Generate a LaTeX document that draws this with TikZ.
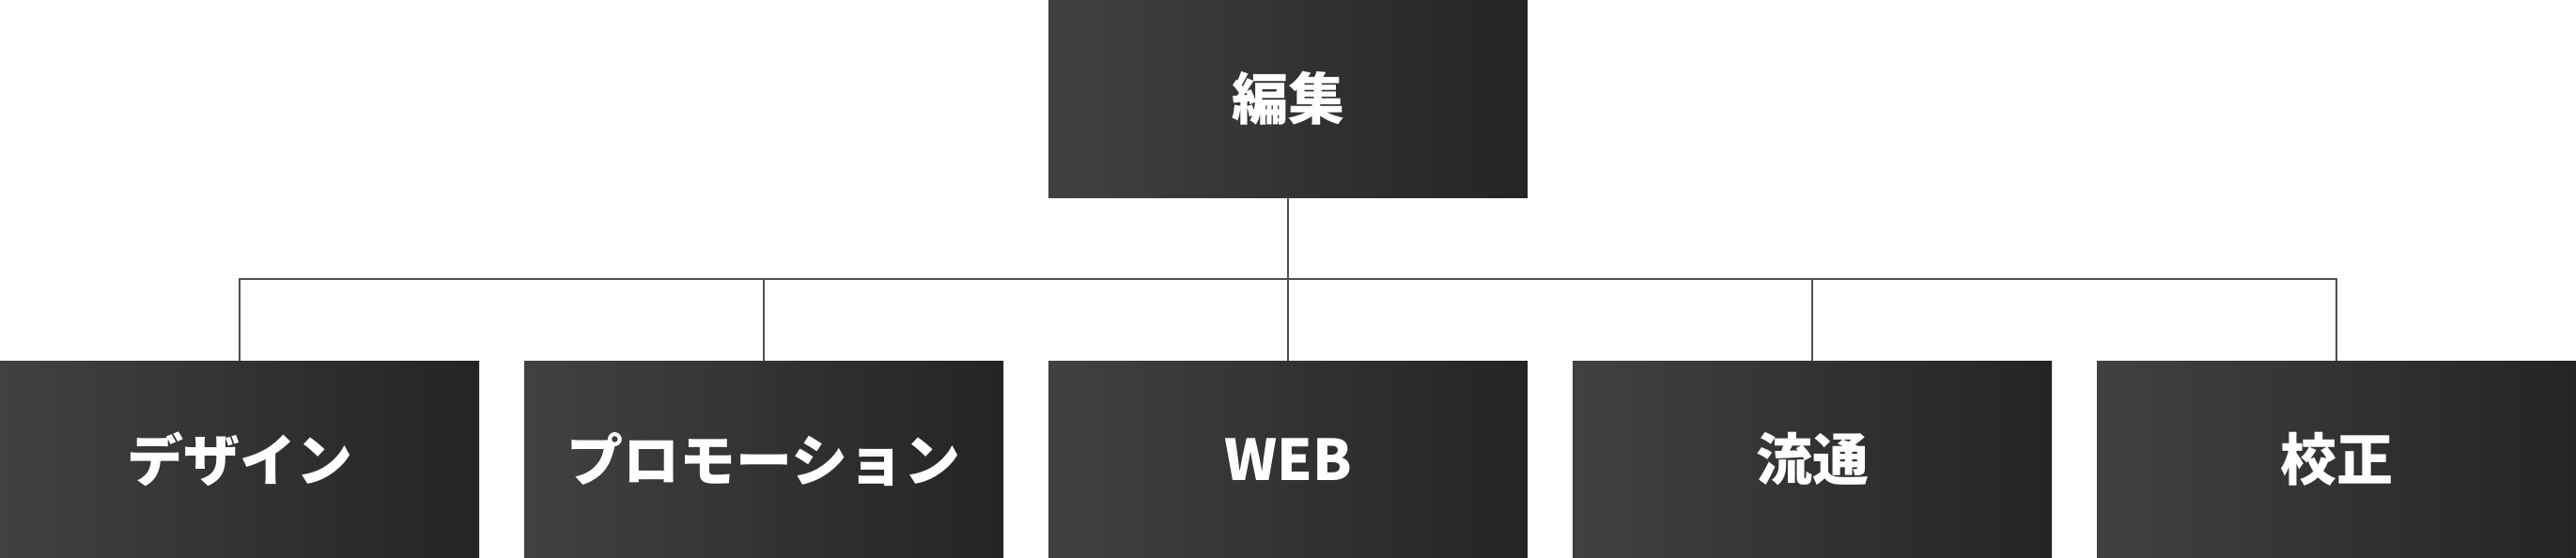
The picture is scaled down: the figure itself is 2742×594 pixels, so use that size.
\documentclass[tikz,border=0pt]{standalone}
\usepackage{fontspec}
\usepackage{tikz}
\newfontfamily\jpfont{Noto Sans CJK JP}
\usepackage{color}
\definecolor{boxleft}{HTML}{414141}
\definecolor{boxright}{HTML}{242424}
\definecolor{linegray}{HTML}{505050}

\begin{document}
\begin{tikzpicture}[x=1pt,y=1pt]
\tikzstyle{every node}+=[inner sep=0pt]
\tikzstyle{orgbox}=[minimum width=510pt, minimum height=210pt, left color=boxleft, right color=boxright, text=white, font=\jpfont\bfseries\fontsize{60}{72}\selectfont]
\tikzstyle{orgline}=[linegray, line width=2.5pt]

\useasboundingbox (0,0) rectangle (2742,-594);

\node [orgbox] (edit) at (1371,-105) {編集};
\node [orgbox] (design) at (255,-489) {デザイン};
\node [orgbox] (promo) at (813,-489) {プロモーション};
\node [orgbox] (web) at (1371,-489) {WEB};
\node [orgbox] (dist) at (1929,-489) {流通};
\node [orgbox] (proof) at (2487,-489) {校正};
\coordinate (mid) at (1371,-297);

\draw [orgline] (edit.south) -- (web.north);
\draw [orgline] (design.north) |- (mid) -| (proof.north);
\draw [orgline] (promo.north) -- (promo.north |- mid);
\draw [orgline] (dist.north) -- (dist.north |- mid);
\end{tikzpicture}
\end{document}
